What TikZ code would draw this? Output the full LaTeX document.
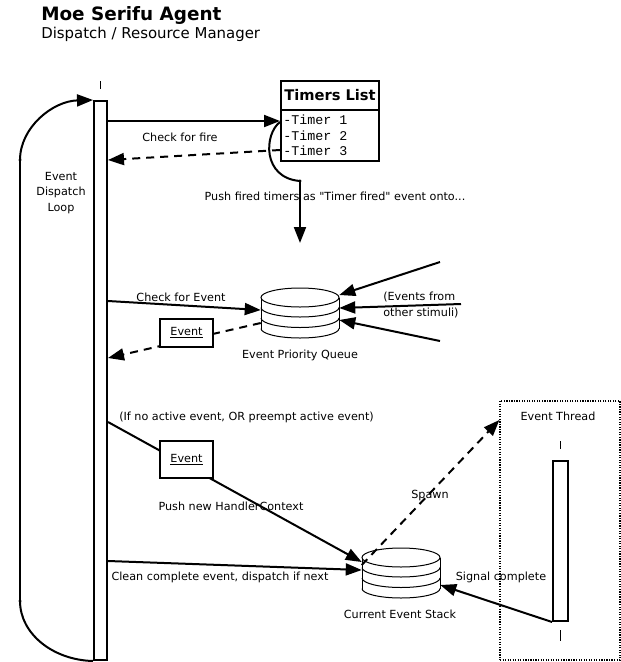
\documentclass[tikz,border=0pt]{standalone}
\usepackage{fontspec}
\setmainfont{DejaVu Sans}
\newfontfamily\monofont{Liberation Mono}
\usetikzlibrary{arrows.meta,calc}
\newcommand\dbstack[2]{%
  \fill[white] (#1-39,#2) -- (#1-39,#2+31) arc[start angle=180,end angle=0,x radius=39,y radius=9.5] -- (#1+39,#2) arc[start angle=0,end angle=180,x radius=39,y radius=9.5] -- cycle;
  \draw[thinline] (#1,#2) ellipse[x radius=39,y radius=9.5];
  \draw[thinline] (#1-39,#2) -- (#1-39,#2+31);
  \draw[thinline] (#1+39,#2) -- (#1+39,#2+31);
  \draw[thinline] (#1-39,#2+10) arc[start angle=180,end angle=0,x radius=39,y radius=9.5];
  \draw[thinline] (#1-39,#2+20.5) arc[start angle=180,end angle=0,x radius=39,y radius=9.5];
  \draw[thinline] (#1-39,#2+31) arc[start angle=180,end angle=0,x radius=39,y radius=9.5];
}
\begin{document}
\begin{tikzpicture}[x=0.75pt,y=-0.75pt,
  conn/.style={line width=1.5pt,-{Triangle[length=12pt,width=9pt]}},
  dconn/.style={conn,dash pattern=on 6pt off 4.5pt},
  plainline/.style={line width=1.5pt},
  thinline/.style={line width=0.75pt},
  lbl/.style={font=\fontsize{8.4}{11.6}\selectfont,inner sep=0pt},
  lifebar/.style={draw,line width=1.5pt,fill=white,minimum width=9.75pt,inner sep=0pt},
  evbox/.style={draw,line width=1.5pt,fill=white,minimum width=39.75pt,inner sep=0pt,font=\fontsize{8.4}{10}\selectfont},
  dotmark/.style={circle,fill=black,inner sep=0pt,minimum size=3pt},
  stub/.style={line width=1pt},
]
\useasboundingbox (0,0) rectangle (621,662);
% titles
\node[anchor=base west,inner sep=0pt,font=\fontsize{13.8}{16}\selectfont\bfseries] (title) at (41,20) {Moe Serifu Agent};
\node[anchor=base west,inner sep=0pt,font=\fontsize{11.2}{14}\selectfont] (subtitle) at (41,38) {Dispatch / Resource Manager};

% main lifeline
\node[lifebar,minimum height=419.25pt] (bar) at (100.5,380.5) {};
\draw[stub] (bar.north) ++(0,-19) -- ++(0,8);

% loop
\coordinate (l1) at (20,160);
\coordinate (l2) at (20,601);
\draw[conn] (l1) .. controls (20,127.4) and (52.7,101) .. (bar.north west);
\draw[plainline] (l1) -- (l2);
\draw[plainline] (l2) .. controls (20,633.6) and (52.7,660) .. (bar.south west);
\node[dotmark,minimum size=2.5pt] (d1) at (l1) {};
\node[dotmark,minimum size=2.5pt] (d2) at (l2) {};
\node[lbl,align=center] (looplbl) at (61,193) {Event\\Dispatch\\Loop};

% timers list
\node[draw,line width=1.5pt,fill=white,minimum width=73.5pt,minimum height=60pt,inner sep=0pt] (timers) at (330,121) {};
\draw[line width=1.5pt] (timers.west |- 0,110) -- (timers.east |- 0,110);
\node[inner sep=0pt,font=\fontsize{11}{12}\selectfont\bfseries] (timershead) at (330,95.5) {Timers List};
\node[anchor=west,inner sep=0pt,font=\monofont\fontsize{10}{12}\selectfont] (t1) at (283,120) {-Timer 1};
\node[anchor=west,inner sep=0pt,font=\monofont\fontsize{10}{12}\selectfont] (t2) at (283,136) {-Timer 2};
\node[anchor=west,inner sep=0pt,font=\monofont\fontsize{10}{12}\selectfont] (t3) at (283,151) {-Timer 3};

\draw[conn] (bar.east |- 0,121) -- (timers.west |- 0,121);
\node[lbl] (cff) at (180,137) {Check for fire};
\draw[dconn] (timers.west |- 0,150) -- (bar.east |- 0,160);

\coordinate (fd) at (300,181);
\draw[plainline] (timers.west |- 0,122) .. controls (264,134) and (262,178) .. (fd);
\node[dotmark,minimum size=2.5pt] (d3) at (fd) {};
\coordinate (pqtop) at (300,243);
\draw[conn] (fd) -- (pqtop);
\node[lbl] (pushfired) at (335,196) {Push fired timers as \textquotedbl Timer fired\textquotedbl{} event onto...};

% priority queue
\dbstack{300}{297.5}
\node[minimum width=58.5pt,minimum height=37.5pt,inner sep=0pt] (pq) at (300,313) {};
\node[lbl] (pqlbl) at (300,355) {Event Priority Queue};

\draw[conn] (bar.east |- 0,301) -- (pq.west |- 0,310);
\node[lbl] (cfe) at (181,297) {Check for Event};
\draw[dconn] (pq.west |- 0,323) -- (bar.east |- 0,358);
\node[evbox,minimum height=21pt] (ev1) at (186.5,333) {\underline{Event}};

\coordinate (s1) at (440,262);
\coordinate (s2) at (461,304);
\coordinate (s3) at (440,341);
\draw[conn] (s1) -- (pq.east |- 0,295);
\draw[conn] (s2) -- (pq.east |- 0,308);
\draw[conn] (s3) -- (pq.east |- 0,320);
\node[lbl,anchor=west,align=left] (other) at (383,305) {(Events from\\other stimuli)};

% current event stack
\dbstack{401}{557.5}
\node[minimum width=58.5pt,minimum height=37.5pt,inner sep=0pt] (cs) at (401,573) {};
\node[lbl] (cslbl) at (400,614) {Current Event Stack};

\node[lbl,anchor=west] (ifno) at (119,417) {(If no active event, OR preempt active event)};
\draw[conn] (bar.east |- 0,422) -- (cs.west |- 0,562);
\node[evbox,minimum height=27.75pt] (ev2) at (186.5,459.5) {\underline{Event}};
\node[lbl] (pushnew) at (231,506) {Push new HandlerContext};

\draw[conn] (bar.east |- 0,561) -- (cs.west |- 0,570);
\node[lbl] (clean) at (220,577) {Clean complete event, dispatch if next};

% event thread
\node[draw,densely dotted,line width=0.9pt,minimum width=90pt,minimum height=194.25pt,inner sep=0pt] (thread) at (560,530.5) {};
\node[lbl] (threadlbl) at (558,416) {Event Thread};
\node[lifebar,minimum height=120pt,minimum width=11.25pt] (tbar) at (560.5,541) {};
\draw[stub] (tbar.north) ++(0,-19) -- ++(0,8);
\draw[stub] (tbar.south) ++(0,8) -- ++(0,11);

\draw[dconn] (cs.west |- 0,565) -- (thread.west |- 0,420);
\node[lbl] (spawn) at (430,496) {Spawn};

\draw[conn] (tbar.south west) -- (cs.east |- 0,585);
\node[lbl] (signal) at (501,577) {Signal complete};
\end{tikzpicture}
\end{document}
